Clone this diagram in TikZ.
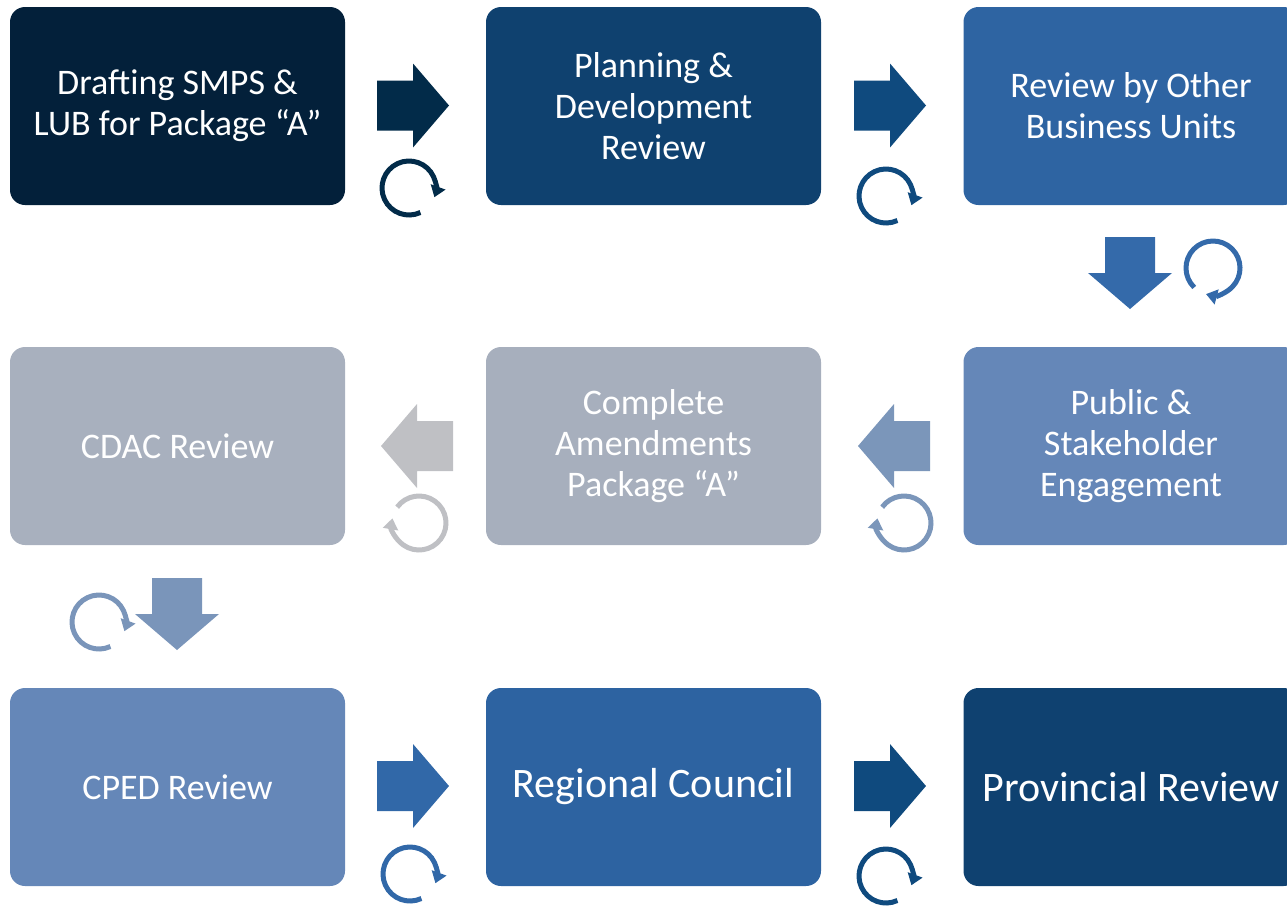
\documentclass[tikz,border=0pt]{standalone}
\usepackage{fontspec}
\setmainfont{Carlito}
\usetikzlibrary{arrows.meta}
\definecolor{boxA}{HTML}{03203A}\definecolor{arrA}{HTML}{022B49}
\definecolor{boxB}{HTML}{0F416F}\definecolor{arrB}{HTML}{0F4A7E}
\definecolor{boxC}{HTML}{2E64A2}\definecolor{arrC}{HTML}{346AAA}
\definecolor{boxD}{HTML}{6587B8}\definecolor{arrD}{HTML}{7B96BA}
\definecolor{boxE}{HTML}{A7AFBD}\definecolor{arrE}{HTML}{BFC0C4}
\definecolor{boxF}{HTML}{A8B0BE}\definecolor{arrF}{HTML}{7A95BA}
\definecolor{boxG}{HTML}{6587B8}\definecolor{arrG}{HTML}{3168A8}
\definecolor{boxH}{HTML}{2D63A1}\definecolor{arrH}{HTML}{0F4A7E}
\definecolor{boxI}{HTML}{0F4170}
\tikzset{
  stepbox/.style={rounded corners=15pt, minimum width=335pt, minimum height=198pt,
    text=white, align=center, inner sep=0pt, font=\fontsize{36}{41}\selectfont},
  bigtext/.style={font=\fontsize{42}{48}\selectfont},
  blockarrow/.pic={\fill[pic actions] (0,-25) -- (36,-25) -- (36,-42) -- (72,0) -- (36,42) -- (36,25) -- (0,25) -- cycle;},
  cycicon/.style args={#1/#2}{line width=5pt, y=1pt, -{Triangle[width=15pt,length=11pt]}},
}
\newcommand\cycarc[5]{% center, colour, start, end
  \draw[color=#2, line width=5pt, -{Triangle[width=15pt,length=11pt]}]
    (#1) ++(#3:27 and -27) arc[start angle=#3, end angle=#4, x radius=27, y radius=-27];}
\begin{document}
\begin{tikzpicture}[x=1pt,y=-1pt]
\useasboundingbox (0,0) rectangle (1287,906);
\clip (0,0) rectangle (1287,906);
% boxes
\node[stepbox, fill=boxA] (b1) at (177.5,106) {Drafting SMPS \&\\LUB for Package “A”};
\node[stepbox, fill=boxB] (b2) at (653.5,106) {Planning \&\\Development\\Review};
\node[stepbox, fill=boxC] (b3) at (1131,106) {Review by Other\\Business Units};
\node[stepbox, fill=boxD] (b4) at (1131,446) {Public \&\\Stakeholder\\Engagement};
\node[stepbox, fill=boxE] (b5) at (653.5,446) {Complete\\Amendments\\Package “A”};
\node[stepbox, fill=boxF] (b6) at (177.5,446) {CDAC Review};
\node[stepbox, fill=boxG] (b7) at (177.5,787) {CPED Review};
\node[stepbox, bigtext, fill=boxH] (b8) at (653.5,787) {Regional Council};
\node[stepbox, bigtext, fill=boxI] (b9) at (1131,787) {Provincial Review};
% block arrows
\pic[fill=arrA] at (377,105.5) {blockarrow};
\pic[fill=arrB] at (854,105.5) {blockarrow};
\pic[fill=arrC, rotate=-90] at (1130,237) {blockarrow};
\pic[fill=arrD, rotate=180] at (930,446) {blockarrow};
\pic[fill=arrE, rotate=180] at (453,446) {blockarrow};
\pic[fill=arrF, rotate=-90] at (177,578) {blockarrow};
\pic[fill=arrG] at (377,786) {blockarrow};
\pic[fill=arrH] at (854,786) {blockarrow};
% cycle icons
\coordinate (c1) at (409,188);
\coordinate (c2) at (886,196);
\coordinate (c3) at (1213,268);
\coordinate (c4) at (904,523);
\coordinate (c5) at (419,523);
\coordinate (c6) at (99,622);
\coordinate (c7) at (410,874);
\coordinate (c8) at (886,876);
\cycarc{c1}{arrA}{-65}{-380}{}
\cycarc{c2}{arrB}{-65}{-380}{}
\cycarc{c3}{arrC}{-134}{-465}{}
\cycarc{c4}{arrD}{144}{-190}{}
\cycarc{c5}{arrE}{144}{-190}{}
\cycarc{c6}{arrF}{-65}{-380}{}
\cycarc{c7}{arrG}{-65}{-380}{}
\cycarc{c8}{arrH}{-65}{-380}{}
\end{tikzpicture}
\end{document}
